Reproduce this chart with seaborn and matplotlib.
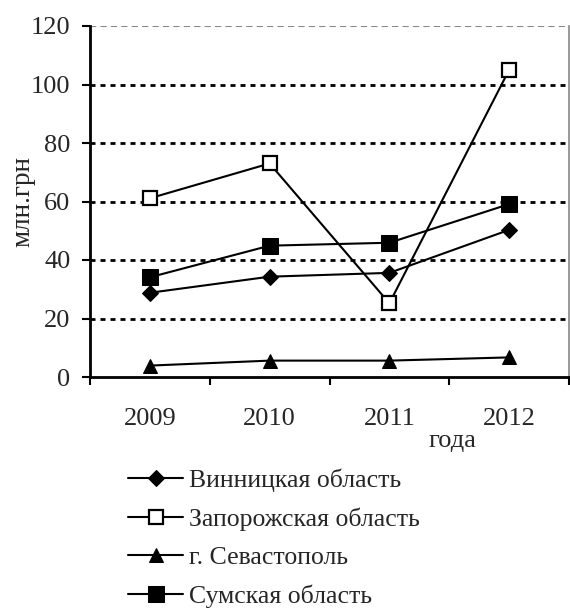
import matplotlib
matplotlib.use("Agg")
import matplotlib.pyplot as plt
import seaborn as sns
import numpy as np
import pandas as pd

# Data
YEARS = ["2009", "2010", "2011", "2012"]
vinnytsia = [28.8, 34.3, 35.6, 50.3]
zaporizhzhia = [61.1, 73.0, 25.2, 105.0]
sevastopol = [3.9, 5.6, 5.6, 6.7]
sumy = [34.1, 44.9, 45.9, 59.1]

SERIES = [
    ("Винницкая область", vinnytsia, dict(marker="D", markersize=8.5, markerfacecolor="black")),
    ("Запорожская область", zaporizhzhia, dict(marker="s", markersize=9.5, markerfacecolor="white", markeredgewidth=1.6)),
    ("г. Севастополь", sevastopol, dict(marker="^", markersize=10, markerfacecolor="black")),
    ("Сумская область", sumy, dict(marker="s", markersize=12, markerfacecolor="black")),
]

sns.set_theme(style="white")
plt.rcParams["font.family"] = ["Liberation Serif", "DejaVu Serif"]

fig = plt.figure(figsize=(5.7, 6.13), dpi=100)
ax = fig.add_axes([90 / 570, 1 - 377 / 613, 479 / 570, 351 / 613])

x = np.arange(len(YEARS))
for name, vals, style in SERIES:
    df = pd.DataFrame({"x": x, "y": vals})
    sns.lineplot(data=df, x="x", y="y", ax=ax, color="black", linewidth=1.5,
                 markeredgecolor="black", label=name, **style)

# dashed gridlines
for v in [20, 40, 60, 80, 100]:
    ax.axhline(v, color="black", linewidth=2, linestyle=(0, (1.8, 1.8)), zorder=0)
ax.axhline(120, color="#888888", linewidth=1.5, linestyle=(0, (3, 2)), zorder=0)

ax.set_xlim(-0.5, 3.5)
ax.set_ylim(0, 120)
ax.set_yticks(range(0, 121, 20))
ax.set_xticks(np.arange(-0.5, 4, 1.0))
ax.set_xticklabels([])
ax.set_xticks(x, minor=True)
ax.set_xticklabels(YEARS, minor=True)

ax.tick_params(axis="y", which="major", direction="out", length=6, width=1.5,
               color="black", labelsize=19, pad=8, left=True)
ax.tick_params(axis="x", which="major", direction="out", length=6, width=1.5,
               color="black", bottom=True)
ax.tick_params(axis="x", which="minor", length=0, labelsize=19, pad=22, bottom=True)

for side in ["left", "bottom"]:
    ax.spines[side].set_color("black")
    ax.spines[side].set_linewidth(2)
ax.spines["top"].set_visible(False)
ax.spines["right"].set_color("#888888")
ax.spines["right"].set_linewidth(1.2)

ax.set_ylabel("млн.грн", fontsize=19.5)
ax.yaxis.set_label_coords(-0.115, 0.5)
ax.set_xlabel("года", fontsize=19)
ax.xaxis.set_label_coords(0.756, -0.15)

handles, labels = ax.get_legend_handles_labels()
ax.get_legend().remove()
fig.legend(handles, labels, loc="upper left", bbox_to_anchor=(0.225, 0.236),
           frameon=False, fontsize=18.5, handlelength=2.15, handletextpad=0.2,
           labelspacing=0.6, borderpad=0, borderaxespad=0)

fig.savefig("out.png", dpi=100, facecolor="white")
